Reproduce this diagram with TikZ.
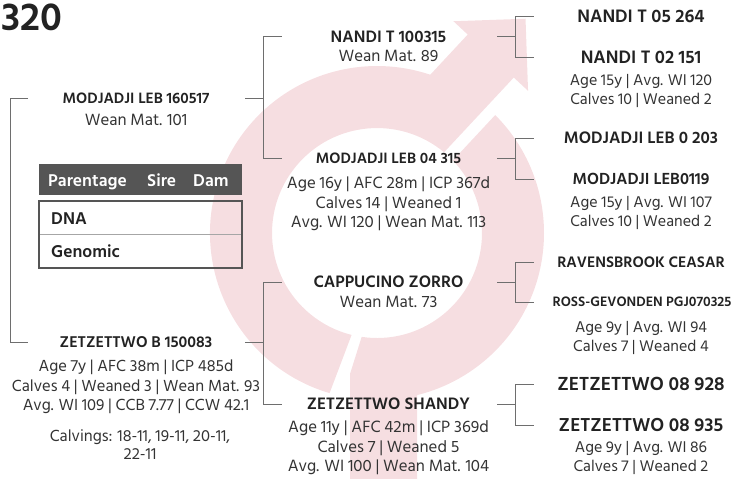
\documentclass[tikz,border=0pt]{standalone}
\usepackage{fontspec}
\setmainfont{Hind Siliguri}
\usetikzlibrary{positioning}
\definecolor{ringpink}{RGB}{246,222,225}
\definecolor{namegray}{RGB}{34,34,34}
\definecolor{infogray}{RGB}{51,51,51}
\definecolor{linegray}{RGB}{110,110,110}
\definecolor{headgray}{RGB}{85,85,85}
\tikzset{
  animal/.style={font=\bfseries\fontsize{#1}{#1}\selectfont, text=namegray, inner sep=0pt, text depth=0pt},
  animal/.default=17,
  stats/.style={font=\fontsize{16.8}{19.5}\selectfont, text=infogray, align=center, inner sep=0pt},
  smallstats/.style={stats, font=\fontsize{16}{19.5}\selectfont},
  tablecell/.style={font=\bfseries\fontsize{17.5}{19}\selectfont, inner sep=0pt, anchor=base west},
  link/.style={draw=linegray, line width=0.9pt}
}

\begin{document}
\begin{tikzpicture}[x=1pt, y=-1pt]
  \useasboundingbox (0,0) rectangle (736,479);

  % Background ring with arrow and stem
  \begin{scope}[shift={(377,233)}, rotate=47, ringpink]
    \fill (151:105) -- (153.5:167) arc[start angle=153.5, end angle=335.6, radius=167]
      -- (207,-69) -- (207,-88.5) -- (258,-37.5) -- (207,13.5) -- (207,-6) -- (104.8,-6)
      arc[start angle=356.7, end angle=151, radius=105] -- cycle;
  \end{scope}
  \begin{scope}[shift={(377,233)}, ringpink]
    \fill (-44.94:167) arc[start angle=-44.94, end angle=76.1, radius=167]
      -- (40,250) -- (-27,250) -- (-27,141) -- (98.4:105)
      arc[start angle=98.4, end angle=-43.72, radius=105] -- cycle;
  \end{scope}

  % Title
  \node[font=\bfseries\fontsize{40}{40}\selectfont, text=namegray, inner sep=0pt, anchor=base west] (title) at (1,30.5) {320};

  % Parentage table
  \node[fill=headgray, minimum width=203, minimum height=31, inner sep=0pt] (head) at (140.5,179.5) {};
  \node[tablecell, text=white] (parentage) at (48,186) {Parentage};
  \node[tablecell, text=white] (sire) at (147,186) {Sire};
  \node[tablecell, text=white] (damcol) at (193,186) {Dam};
  \draw[draw=headgray, line width=2pt] (39,201) rectangle (242,268);
  \draw[draw=gray!70, line width=0.8pt] (40,234) -- (241,234);
  \node[tablecell, text=namegray] (dna) at (51,224) {DNA};
  \node[tablecell, text=namegray] (genomic) at (51,257) {Genomic};

  % Parents
  \node[animal=15.4] (modLeb) at (136,98) {MODJADJI LEB 160517};
  \node[stats, below=10.9pt of modLeb] (modLebInfo) {Wean Mat. 101};
  \node[animal=16] (zetB) at (136,342) {ZETZETTWO B 150083};
  \node[stats, font=\fontsize{16.5}{19.5}\selectfont, below=12pt of zetB] (zetBInfo) {Age 7y | AFC 38m | ICP 485d\\ Calves 4 | Weaned 3 | Wean Mat. 93\\ Avg. WI 109 | CCB 7.77 | CCW 42.1};
  \node[stats, font=\fontsize{16.5}{18}\selectfont, below=15pt of zetBInfo, xshift=4pt] (calvings) {Calvings: 18-11, 19-11, 20-11,\\ 22-11};

  % Grandparents
  \node[animal] (nandiT) at (388.5,36.5) {NANDI T 100315};
  \node[stats, below=7.8pt of nandiT] (nandiTInfo) {Wean Mat. 89};
  \node[animal=15.4] (modLeb04) at (388.5,158) {MODJADJI LEB 04 315};
  \node[stats, below=13.2pt of modLeb04] (modLeb04Info) {Age 16y | AFC 28m | ICP 367d\\ Calves 14 | Weaned 1\\ Avg. WI 120 | Wean Mat. 113};
  \node[animal] (cappu) at (388.5,282) {CAPPUCINO ZORRO};
  \node[stats, below=8.3pt of cappu] (cappuInfo) {Wean Mat. 73};
  \node[animal] (zetShandy) at (388.5,404) {ZETZETTWO SHANDY};
  \node[stats, below=10.5pt of zetShandy] (zetShandyInfo) {Age 11y | AFC 42m | ICP 369d\\ Calves 7 | Weaned 5\\ Avg. WI 100 | Wean Mat. 104};

  % Great-grandparents
  \node[animal=18.5] (nandi05) at (641,16) {NANDI T 05 264};
  \node[animal=18.5] (nandi02) at (641,57) {NANDI T 02 151};
  \node[smallstats, below=10.4pt of nandi02] (nandi02Info) {Age 15y | Avg. WI 120\\ Calves 10 | Weaned 2};
  \node[animal=17] (modLeb0203) at (641,138) {MODJADJI LEB 0 203};
  \node[animal=16.5] (modLeb0119) at (641,179) {MODJADJI LEB0119};
  \node[smallstats, below=11.1pt of modLeb0119] (modLeb0119Info) {Age 15y | Avg. WI 107\\ Calves 10 | Weaned 2};
  \node[animal=15.6] (ravens) at (641,262) {RAVENSBROOK CEASAR};
  \node[animal=14] (ross) at (642,302) {ROSS-GEVONDEN PGJ070325};
  \node[smallstats, below=13.9pt of ross, xshift=-1pt] (rossInfo) {Age 9y | Avg. WI 94\\ Calves 7 | Weaned 4};
  \node[animal=19.4] (zet928) at (641,384) {ZETZETTWO 08 928};
  \node[animal=19.2] (zet935) at (641,425) {ZETZETTWO 08 935};
  \node[smallstats, below=9pt of zet935] (zet935Info) {Age 9y | Avg. WI 86\\ Calves 7 | Weaned 2};

  % Pedigree brackets
  \draw[link] (28,0 |- modLeb) -| (10,0 |- zetB) -- (28,0 |- zetB);
  \foreach \kid/\up/\dn/\jx in {modLeb/nandiT/modLeb04/263, zetB/cappu/zetShandy/263,
      nandiT/nandi05/nandi02/515, modLeb04/modLeb0203/modLeb0119/515,
      cappu/ravens/ross/515, zetShandy/zet928/zet935/515}
    \draw[link] ({\jx-18},0 |- \kid) -- (\jx,0 |- \kid)
      (\jx,0 |- \up) -- ({\jx+19},0 |- \up) (\jx,0 |- \up) -- (\jx,0 |- \dn) -- ({\jx+19},0 |- \dn);

\end{tikzpicture}
\end{document}
